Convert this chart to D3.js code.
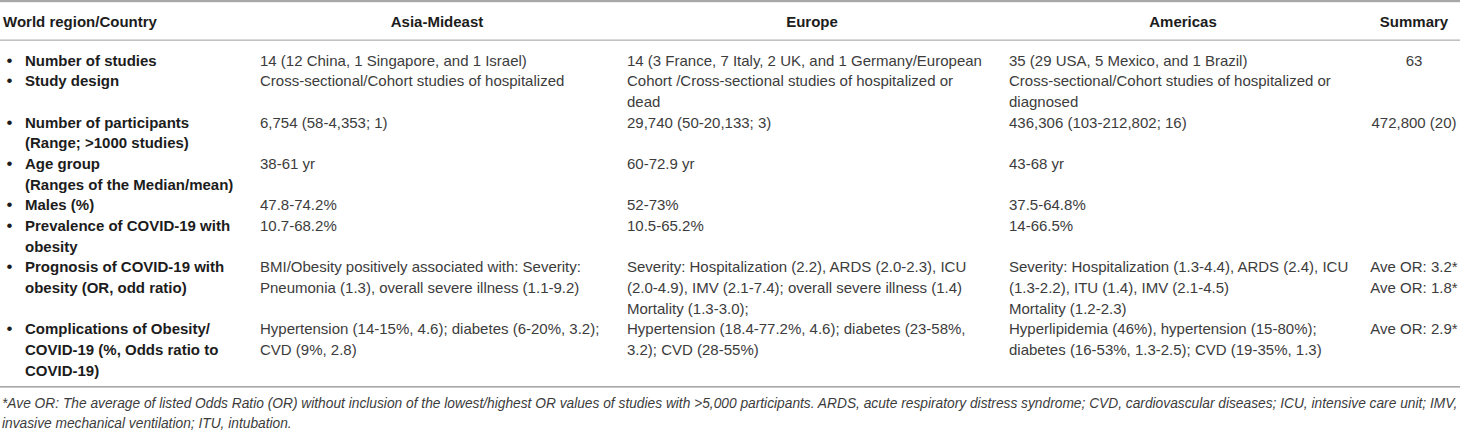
<!DOCTYPE html>
<html>
<head>
<meta charset="utf-8">
<script src="https://cdn.jsdelivr.net/npm/d3@7"></script>
<style>
  html, body { margin: 0; padding: 0; background: #fff; }
  svg { display: block; }
  text { font-family: "Liberation Sans", Arial, Helvetica, sans-serif; }
</style>
</head>
<body>
<svg id="chart" width="1460" height="440"></svg>
<script>
// ---- DATA ----
const headerLabel = "World region/Country";
const regions = ["Asia-Mideast", "Europe", "Americas", "Summary"];

const rowLabels = [
  ["Number of studies"],
  ["Study design"],
  ["Number of participants", "(Range; >1000 studies)"],
  ["Age group", "(Ranges of the Median/mean)"],
  ["Males (%)"],
  ["Prevalence of COVID-19 with", "obesity"],
  ["Prognosis of COVID-19 with", "obesity (OR, odd ratio)"],
  ["Complications of Obesity/", "COVID-19 (%, Odds ratio to", "COVID-19)"]
];

const asiaMideast = [
  ["14 (12 China, 1 Singapore, and 1 Israel)"],
  ["Cross-sectional/Cohort studies of hospitalized"],
  ["6,754 (58-4,353; 1)"],
  ["38-61 yr"],
  ["47.8-74.2%"],
  ["10.7-68.2%"],
  ["BMI/Obesity positively associated with: Severity:", "Pneumonia (1.3), overall severe illness (1.1-9.2)"],
  ["Hypertension (14-15%, 4.6); diabetes (6-20%, 3.2);", "CVD (9%, 2.8)"]
];

const europe = [
  ["14 (3 France, 7 Italy, 2 UK, and 1 Germany/European"],
  ["Cohort /Cross-sectional studies of hospitalized or", "dead"],
  ["29,740 (50-20,133; 3)"],
  ["60-72.9 yr"],
  ["52-73%"],
  ["10.5-65.2%"],
  ["Severity: Hospitalization (2.2), ARDS (2.0-2.3), ICU", "(2.0-4.9), IMV (2.1-7.4); overall severe illness (1.4)", "Mortality (1.3-3.0);"],
  ["Hypertension (18.4-77.2%, 4.6); diabetes (23-58%,", "3.2); CVD (28-55%)"]
];

const americas = [
  ["35 (29 USA, 5 Mexico, and 1 Brazil)"],
  ["Cross-sectional/Cohort studies of hospitalized or", "diagnosed"],
  ["436,306 (103-212,802; 16)"],
  ["43-68 yr"],
  ["37.5-64.8%"],
  ["14-66.5%"],
  ["Severity: Hospitalization (1.3-4.4), ARDS (2.4), ICU", "(1.3-2.2), ITU (1.4), IMV (2.1-4.5)", "Mortality (1.2-2.3)"],
  ["Hyperlipidemia (46%), hypertension (15-80%);", "diabetes (16-53%, 1.3-2.5); CVD (19-35%, 1.3)"]
];

const summary = [
  ["63"],
  [],
  ["472,800 (20)"],
  [],
  [],
  [],
  ["Ave OR: 3.2*", "Ave OR: 1.8*"],
  ["Ave OR: 2.9*"]
];

const footnote = [
  "*Ave OR: The average of listed Odds Ratio (OR) without inclusion of the lowest/highest OR values of studies with >5,000 participants. ARDS, acute respiratory distress syndrome; CVD, cardiovascular diseases; ICU, intensive care unit; IMV,",
  "invasive mechanical ventilation; ITU, intubation."
];

// ---- LAYOUT ----
const W = 1460, H = 440;
const svg = d3.select("#chart");
const columns = [asiaMideast, europe, americas, summary];

const rowLines = rowLabels.map((lab, i) =>
  Math.max(lab.length, ...columns.map(c => c[i].length)));
const rowStart = [];
rowLines.reduce((acc, n, i) => { rowStart[i] = acc; return acc + n; }, 0);
const totalLines = d3.sum(rowLines);

const y = d3.scaleLinear().domain([0, totalLines - 1]).range([60, 370]);

const colStart = d3.scaleOrdinal().domain(regions).range([260, 627, 1009, 1414]);
const colCenter = d3.scaleOrdinal().domain(regions).range([437, 812, 1183, 1414]);
const colAnchor = d3.scaleOrdinal().domain(regions).range(["start", "start", "start", "middle"]);

const lineColor = "#b4b4b4";
const bodyColor = "#3c3c3c";
const labelColor = "#1c1c1c";
const fs = 15;

// rules
svg.append("rect").attr("x", 0).attr("y", 0).attr("width", W).attr("height", 2.2).attr("fill", "#a8a8a8");
svg.append("rect").attr("x", 0).attr("y", 39.5).attr("width", W).attr("height", 1.3).attr("fill", lineColor);
svg.append("rect").attr("x", 0).attr("y", 386).attr("width", W).attr("height", 1.6).attr("fill", "#a8a8a8");

// header
const hdr = svg.append("g").attr("font-weight", "bold").attr("font-size", fs).attr("fill", labelColor);
hdr.append("text").attr("x", 3).attr("y", 21).attr("dominant-baseline", "central").text(headerLabel);
hdr.selectAll("text.reg").data(regions).join("text")
  .attr("class", "reg")
  .attr("x", d => colCenter(d))
  .attr("y", 21)
  .attr("text-anchor", "middle")
  .attr("dominant-baseline", "central")
  .text(d => d);

// row labels with bullets
const labG = svg.append("g").attr("font-size", fs);
rowLabels.forEach((lines, i) => {
  labG.append("text").attr("x", 6.5).attr("y", y(rowStart[i]))
    .attr("dominant-baseline", "central").attr("fill", labelColor)
    .attr("font-size", 17).text("•");
  lines.forEach((t, j) => {
    labG.append("text").attr("x", 25).attr("y", y(rowStart[i] + j))
      .attr("dominant-baseline", "central").attr("font-weight", "bold")
      .attr("fill", labelColor).text(t);
  });
});

// body cells
const cells = [];
columns.forEach((col, ci) => {
  col.forEach((lines, ri) => {
    lines.forEach((t, j) => cells.push({ region: regions[ci], line: rowStart[ri] + j, text: t }));
  });
});
svg.append("g").attr("font-size", fs).attr("fill", bodyColor)
  .selectAll("text").data(cells).join("text")
  .attr("x", d => d.region === "Summary" ? colCenter(d.region) : colStart(d.region))
  .attr("y", d => y(d.line))
  .attr("text-anchor", d => colAnchor(d.region))
  .attr("dominant-baseline", "central")
  .text(d => d.text);

// footnote
const fy = d3.scaleLinear().domain([0, 1]).range([403, 423]);
svg.append("g").attr("font-size", 13.75).attr("font-style", "italic").attr("fill", bodyColor)
  .selectAll("text").data(footnote).join("text")
  .attr("x", 2)
  .attr("y", (d, i) => fy(i))
  .attr("dominant-baseline", "central")
  .text(d => d);
</script>
</body>
</html>
